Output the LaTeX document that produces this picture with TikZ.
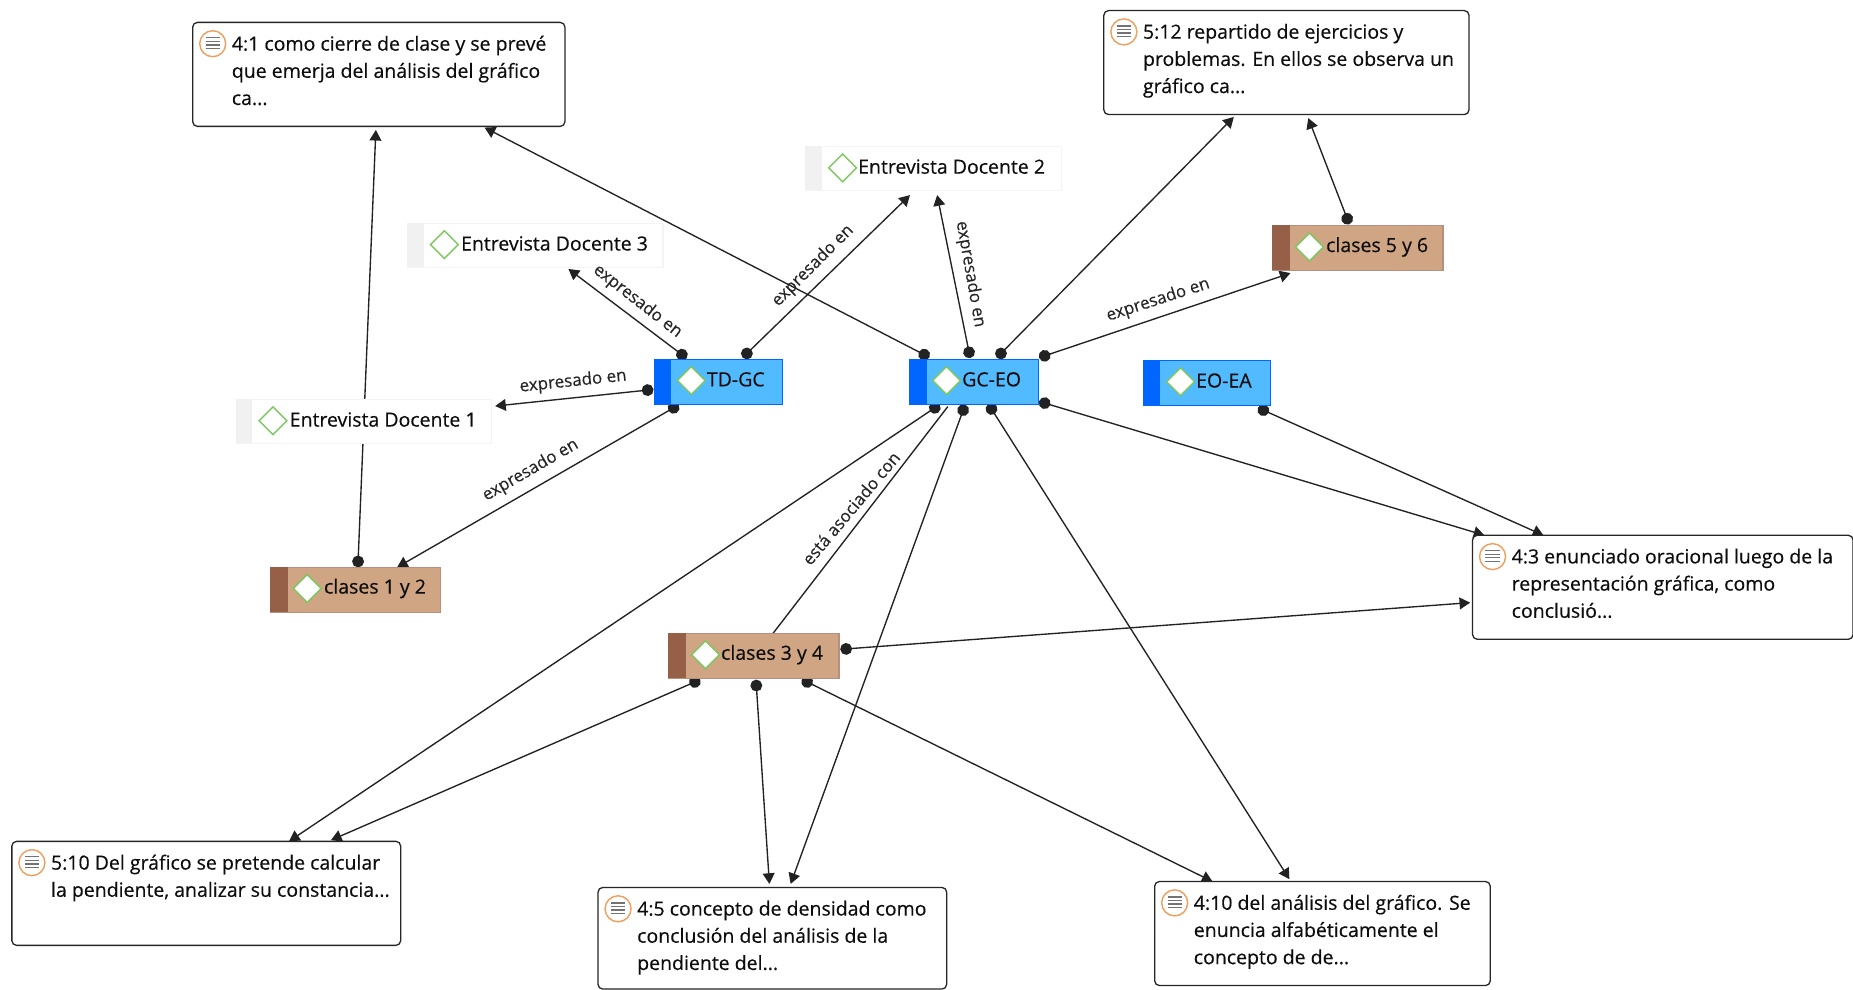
\documentclass[tikz,border=0pt]{standalone}
\usepackage{fontspec}
\setmainfont{Open Sans}[RawFeature={embolden=0.35}]
\usetikzlibrary{arrows.meta,shapes.geometric,backgrounds}
\definecolor{edge}{HTML}{222222}
\definecolor{blueA}{HTML}{52BBFF}
\definecolor{blueB}{HTML}{0066FF}
\definecolor{brownA}{HTML}{CFA584}
\definecolor{brownB}{HTML}{966048}
\definecolor{grayband}{HTML}{F1F1F1}
\definecolor{grayline}{HTML}{F4F4F4}
\definecolor{okgreen}{HTML}{7CC85F}
\definecolor{iconorange}{HTML}{EE9F5E}
\tikzset{
  x=1pt,y=-1pt,
  txt/.style={font=\fontsize{16.5}{23}\selectfont,text=black!95,inner sep=0pt},
  lbl/.style={font=\fontsize{14.4}{15}\selectfont,text=black!85,inner sep=0pt},
  link/.style={draw=edge,line width=1.15pt,shorten <=-5pt,{Circle[length=10pt]}-{Triangle[length=9pt,width=10pt]}},
  bare/.style={draw=edge,line width=1.15pt},
  notebox/.style={draw=black!85,line width=1.1pt,rounded corners=4pt,fill=white,anchor=north west,inner sep=0pt},
  tag/.style={diamond,draw=okgreen,fill=white,line width=1.2pt,inner sep=0pt,minimum width=24pt,minimum height=24pt}
}
% name, x1, y1, x2, y2, text
\newcommand{\notecard}[6]{%
  \node[notebox,minimum width=#4pt-#2pt,minimum height=#5pt-#3pt] (#1) at (#2-0.5,#3-0.6) {};
  \node[txt,anchor=north west,align=left] (#1t) at (#2+33,#3+11) {#6};
  \node[circle,draw=iconorange,fill=white,line width=1.2pt,minimum size=22pt,inner sep=0pt] (#1i) at (#2+17,#3+18) {};
  \foreach \yy in {-5,-2,1,4}{\draw[gray!90!black,line width=1.1pt] (#2+11,#3+18+\yy) -- (#2+23,#3+18+\yy);}
}
% name, x1, y1, x2, y2, band width, fill, band colour, border colour
\newcommand{\codecard}[9]{%
  \node[draw=#9,fill=#7,line width=1pt,inner sep=0pt,anchor=north west,minimum width=#4pt-#2pt,minimum height=#5pt-#3pt] (#1) at (#2-0.5,#3-0.4) {};
  \fill[#8] (#2-0.5,#3-0.4) rectangle (#2+#6-0.5,#5-0.4);
  \node[tag] (#1d) at (#2+31,#3+18) {};
}
\begin{document}
\begin{tikzpicture}
\useasboundingbox (0,0) rectangle (1568,837);

% memo cards
\notecard{a}{163}{19}{478}{107}{4:1 como cierre de clase y se prevé\\que emerja del análisis del gráfico\\ca...}
\notecard{b}{934}{9}{1243}{97}{5:12 repartido de ejercicios y\\problemas. En ellos se observa un\\gráfico ca...}
\notecard{c}{1246}{453}{1568}{541}{4:3 enunciado oracional luego de la\\representación gráfica, como\\conclusió...}
\notecard{d}{10}{712}{339}{800}{5:10 Del gráfico se pretende calcular\\la pendiente, analizar su constancia...}
\notecard{e}{506}{751}{801}{837}{4:5 concepto de densidad como\\conclusión del análisis de la\\pendiente del...}
\notecard{f}{977}{746}{1261}{834}{4:10 del análisis del gráfico. Se\\enuncia alfabéticamente el\\concepto de de...}

% interview documents
\codecard{ed2}{682}{124}{898}{161}{14}{white}{grayband}{grayline}
\node[txt,anchor=west] (ed2t) at (726,141) {Entrevista Docente 2};
\codecard{ed3}{345}{189}{561}{226}{14}{white}{grayband}{grayline}
\node[txt,anchor=west] (ed3t) at (390,206) {Entrevista Docente 3};
\codecard{ed1}{200}{338}{416}{375}{14}{white}{grayband}{grayline}
\node[txt,anchor=west] (ed1t) at (245,355) {Entrevista Docente 1};

% blue codes
\codecard{td}{554}{304}{662}{342}{14}{blueA}{blueB}{blueB}
\node[txt,anchor=west] (tdt) at (598,321) {TD-GC};
\codecard{gc}{770}{304}{879}{342}{15}{blueA}{blueB}{blueB}
\node[txt,anchor=west] (gct) at (814,321) {GC-EO};
\codecard{eo}{968}{305}{1075}{343}{14}{blueA}{blueB}{blueB}
\node[txt,anchor=west] (eot) at (1012,322) {EO-EA};

% brown codes
\codecard{c56}{1077}{191}{1221}{229}{15}{brownA}{brownB}{brownB!70}
\node[txt,anchor=west] (c56t) at (1122,209) {clases 5 y 6};
\codecard{c12}{229}{480}{373}{518}{15}{brownA}{brownB}{brownB!70}
\node[txt,anchor=west] (c12t) at (274,498) {clases 1 y 2};
\codecard{c34}{566}{536}{710}{574}{15}{brownA}{brownB}{brownB!70}
\node[txt,anchor=west] (c34t) at (610,554) {clases 3 y 4};

% connectors: offsets are measured from the centre of each named node
\begin{pgfonlayer}{background}
\draw[link] ([shift={(2,-24)}]c12.center) -- ([shift={(-2.5,47)}]a.center);
\draw[link] ([shift={(-42.5,-23)}]gc.center) -- ([shift={(89.5,45)}]a.center);
\draw[link] ([shift={(-4.5,-25)}]gc.center) -- ([shift={(3,22.5)}]ed2.center);
\draw[link] ([shift={(22.5,-24)}]gc.center) -- ([shift={(-44.5,46)}]b.center);
\draw[link] ([shift={(59.5,-22)}]gc.center) -- ([shift={(-57,21)}]c56.center);
\draw[link] ([shift={(-9,-25)}]c56.center) -- ([shift={(18.5,47)}]b.center);
\draw[link] ([shift={(-31,-23)}]td.center) -- ([shift={(28,20)}]ed3.center);
\draw[link] ([shift={(24,-24)}]td.center) -- ([shift={(-20,22.5)}]ed2.center);
\draw[link] ([shift={(-60,7)}]td.center) -- ([shift={(111,-13)}]ed1.center);
\draw[link] ([shift={(-38,22)}]td.center) -- ([shift={(35,-19)}]c12.center);
\draw[link] ([shift={(47.5,23)}]eo.center) -- ([shift={(-101,-44)}]c.center);
\draw[link] ([shift={(59.5,18)}]gc.center) -- ([shift={(-151,-44)}]c.center);
\draw[link] ([shift={(-33.5,22)}]gc.center) -- ([shift={(70,-44)}]d.center);
\draw[bare] ([shift={(-22.5,21)}]gc.center) -- ([shift={(16,-19)}]c34.center);
\draw[link] ([shift={(-9.5,24)}]gc.center) -- ([shift={(15.5,-46)}]e.center);
\draw[link] ([shift={(14.5,23)}]gc.center) -- ([shift={(-28,-46)}]f.center);
\draw[link] ([shift={(78,-6)}]c34.center) -- ([shift={(-163,13)}]c.center);
\draw[link] ([shift={(-50,22)}]c34.center) -- ([shift={(105.5,-45)}]d.center);
\draw[link] ([shift={(2,25)}]c34.center) -- ([shift={(-2.5,-46)}]e.center);
\draw[link] ([shift={(45,22)}]c34.center) -- ([shift={(-93,-44)}]f.center);
\end{pgfonlayer}

% connector labels
\node[lbl,rotate=-38] (l1) at (539.5,255) {expresado en};
\node[lbl,rotate=45] (l2) at (688,225) {expresado en};
\node[lbl,rotate=-80] (l3) at (821,232) {expresado en};
\node[lbl,rotate=18] (l4) at (980,254) {expresado en};
\node[lbl,rotate=6] (l5) at (485,323) {expresado en};
\node[lbl,rotate=30] (l6) at (449,398) {expresado en};
\node[lbl,rotate=50] (l7) at (720,430) {está asociado con};
\end{tikzpicture}
\end{document}
